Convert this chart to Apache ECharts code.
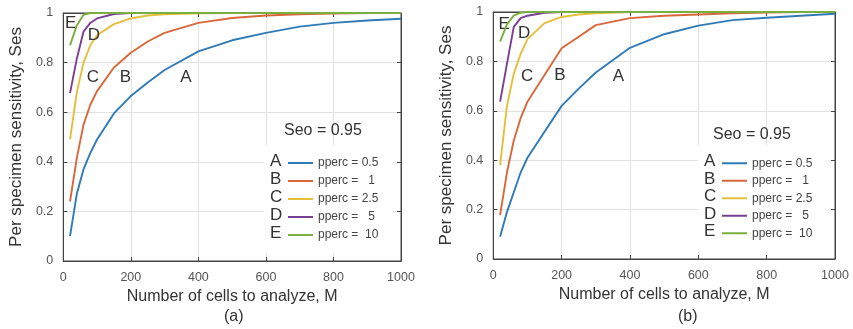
<!DOCTYPE html>
<html>
<head>
<meta charset="utf-8">
<script src="https://cdn.jsdelivr.net/npm/echarts@6/dist/echarts.min.js"></script>
<style>
html,body{margin:0;padding:0;background:#fff;}
#ca{position:absolute;left:0;top:0;width:430px;height:329px;}
#cb{position:absolute;left:430px;top:0;width:423px;height:329px;}
</style>
</head>
<body>
<div id="ca"></div>
<div id="cb"></div>
<script>
// ---- data ----
const cellsM = [20, 40, 60, 80, 100, 150, 200, 250, 300, 400, 500, 600, 700, 800, 900, 1000];
const xTicks = [0, 200, 400, 600, 800, 1000];
const yTicks = [0, 0.2, 0.4, 0.6, 0.8, 1];
const curveLetters = ['A', 'B', 'C', 'D', 'E'];
const ppercNames = ['pperc = 0.5', 'pperc =   1', 'pperc = 2.5', 'pperc =   5', 'pperc =  10'];
const seoText = 'Seo = 0.95';

// panel (a)
const sesA_a = [0.10, 0.27, 0.37, 0.435, 0.49, 0.595, 0.665, 0.72, 0.77, 0.845, 0.89, 0.92, 0.945, 0.96, 0.97, 0.977];
const sesB_a = [0.24, 0.415, 0.55, 0.63, 0.685, 0.78, 0.84, 0.885, 0.92, 0.96, 0.98, 0.99, 0.995, 0.998, 1, 1];
const sesC_a = [0.49, 0.68, 0.80, 0.87, 0.91, 0.955, 0.978, 0.99, 0.995, 0.999, 1, 1, 1, 1, 1, 1];
const sesD_a = [0.677, 0.815, 0.925, 0.96, 0.978, 0.996, 1, 1, 1, 1, 1, 1, 1, 1, 1, 1];
const sesE_a = [0.87, 0.95, 0.993, 1, 1, 1, 1, 1, 1, 1, 1, 1, 1, 1, 1, 1];
// panel (b)
const sesA_b = [0.09, 0.19, 0.27, 0.35, 0.41, 0.515, 0.62, 0.69, 0.755, 0.855, 0.91, 0.945, 0.967, 0.977, 0.985, 0.993];
const sesB_b = [0.178, 0.35, 0.48, 0.57, 0.637, 0.745, 0.853, 0.90, 0.947, 0.975, 0.985, 0.99, 0.995, 0.998, 1, 1];
const sesC_b = [0.38, 0.62, 0.75, 0.83, 0.89, 0.955, 0.98, 0.99, 0.995, 1, 1, 1, 1, 1, 1, 1];
const sesD_b = [0.637, 0.79, 0.94, 0.975, 0.985, 0.997, 1, 1, 1, 1, 1, 1, 1, 1, 1, 1];
const sesE_b = [0.88, 0.95, 0.985, 0.997, 1, 1, 1, 1, 1, 1, 1, 1, 1, 1, 1, 1];

// curve-label anchor points (data coords)
const labelPos_a = [[363, 0.742], [184, 0.742], [88, 0.742], [91, 0.911], [22, 0.96]];
const labelPos_b = [[366, 0.741], [195, 0.745], [99, 0.741], [90, 0.915], [32, 0.951]];

const colors = ['#2f7bb8', '#d8683a', '#e3bf3c', '#7a3f93', '#7aae3e'];
const FONT = '"Liberation Sans", Arial, sans-serif';

function build(el, cfg) {
  const chart = echarts.init(el, null, {renderer: 'canvas'});
  const g = cfg.grid;
  const series = cfg.data.map((arr, i) => ({
    name: ppercNames[i],
    type: 'line',
    data: cellsM.map((m, k) => [m, arr[k]]),
    symbol: 'none',
    lineStyle: {width: 1.9, color: colors[i]},
    itemStyle: {color: colors[i]},
    z: 2 + i,
    silent: true,
    markPoint: {
      symbol: 'circle', symbolSize: 0, silent: true,
      data: [{coord: cfg.labels[i], value: curveLetters[i]}],
      label: {show: true, position: 'inside', formatter: curveLetters[i],
        color: '#333', fontSize: 17, fontFamily: FONT}
    }
  }));
  const rowH = cfg.rowH;
  const letters = curveLetters.map((L, i) => ({
    type: 'text', z: 100,
    left: cfg.letterX - 6, top: cfg.legTop + cfg.padTop + rowH * i + rowH / 2 - 10,
    style: {text: L, fill: '#333', font: '17px ' + FONT}
  }));
  const axisBase = {
    type: 'value', min: 0, splitNumber: 5,
    axisLine: {show: true, onZero: false, lineStyle: {color: '#444', width: 1}},
    axisTick: {show: true, inside: true, length: 4, lineStyle: {color: '#444'}},
  };
  chart.setOption({
    animation: false,
    backgroundColor: '#fff',
    grid: {left: g.left, top: g.top, width: g.width, height: g.height, containLabel: false,
      show: true, borderColor: '#444', borderWidth: 1, backgroundColor: 'transparent'},
    xAxis: [
      Object.assign({}, axisBase, {
        position: 'bottom', max: 1000, interval: 200,
        name: 'Number of cells to analyze, M', nameLocation: 'middle', nameGap: 16,
        nameTextStyle: {color: '#333', fontSize: 16, fontFamily: FONT},
        axisLabel: {color: '#555', fontSize: 12.5, fontFamily: FONT, margin: 10,
          formatter: v => xTicks.includes(v) ? String(v) : ''},
        splitLine: {show: true, lineStyle: {color: '#e2e2e2', width: 1}}
      }),
      Object.assign({}, axisBase, {
        position: 'top', max: 1000, interval: 200,
        axisLabel: {show: false}, splitLine: {show: false}
      })
    ],
    yAxis: [
      Object.assign({}, axisBase, {
        position: 'left', max: 1, interval: 0.2,
        name: 'Per specimen sensitivity, Ses', nameLocation: 'middle', nameGap: cfg.yNameGap,
        nameTextStyle: {color: '#333', fontSize: 17, fontFamily: FONT},
        axisLabel: {color: '#555', fontSize: 12.5, fontFamily: FONT, margin: 10,
          formatter: v => { const t = yTicks.find(y => Math.abs(y - v) < 1e-9); return t === undefined ? '' : String(t); }},
        splitLine: {show: true, lineStyle: {color: '#e2e2e2', width: 1}}
      }),
      Object.assign({}, axisBase, {
        position: 'right', max: 1, interval: 0.2,
        axisLabel: {show: false}, splitLine: {show: false}
      })
    ],
    legend: {
      show: true, orient: 'vertical',
      left: cfg.legLeft, top: cfg.legTop,
      padding: [cfg.padTop, 16, 9, 24],
      backgroundColor: '#fff',
      itemGap: 0, itemWidth: 25, itemHeight: 2, icon: 'rect',
      selectedMode: false,
      textStyle: {color: '#444', fontSize: 12, fontFamily: FONT, lineHeight: rowH},
      data: ppercNames
    },
    graphic: letters.concat([
      {type: 'text', z: 100, left: cfg.seoX - 42, top: cfg.seoY - 9,
        style: {text: seoText, fill: '#333', font: '16px ' + FONT}},
      {type: 'text', z: 100, left: cfg.tagX - 9, top: 309,
        style: {text: cfg.tag, fill: '#333', font: '16px ' + FONT}}
    ]),
    series: series
  });
}

build(document.getElementById('ca'), {
  grid: {left: 59, top: 13, width: 342, height: 248},
  data: [sesA_a, sesB_a, sesC_a, sesD_a, sesE_a],
  labels: labelPos_a,
  yNameGap: 33,
  legLeft: 264, legTop: 145, padTop: 9, rowH: 18,
  letterX: 276, seoX: 326, seoY: 132, tag: '(a)', tagX: 233
});
build(document.getElementById('cb'), {
  grid: {left: 61, top: 12, width: 344, height: 247},
  data: [sesA_b, sesB_b, sesC_b, sesD_b, sesE_b],
  labels: labelPos_b,
  yNameGap: 30,
  legLeft: 268, legTop: 145, padTop: 9.5, rowH: 17.5,
  letterX: 280, seoX: 325, seoY: 136, tag: '(b)', tagX: 257
});
</script>
</body>
</html>
